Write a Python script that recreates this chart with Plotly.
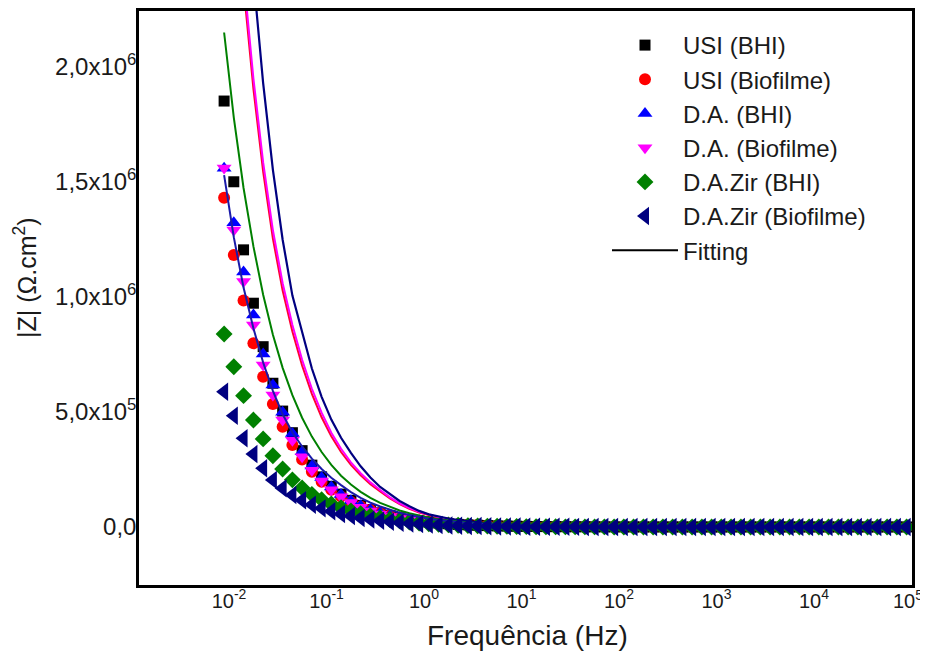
import plotly.graph_objects as go

# Frequencies (Hz), lowest to highest
freq = [0.00891, 0.0112, 0.0141, 0.0178, 0.0224, 0.0282, 0.0355, 0.0447, 0.0562, 0.0708,
        0.0891, 0.112, 0.141, 0.178, 0.224, 0.282, 0.355, 0.447, 0.562, 0.708,
        0.891, 1.12, 1.41, 1.78, 2.24, 2.82, 3.55, 4.47, 5.62, 7.08,
        8.91, 11.2, 14.1, 17.8, 22.4, 28.2, 35.5, 44.7, 56.2, 70.8,
        89.1, 112, 141, 178, 224, 282, 355, 447, 562, 708,
        891, 1120, 1410, 1780, 2240, 2820, 3550, 4470, 5620, 7080,
        8910, 11200, 14100, 17800, 22400, 28200, 35500, 44700, 56200, 70800,
        89100]

usi_bhi = [1852000, 1501000, 1205000, 973000, 784000, 625000, 504000, 410000, 332000, 269000,
           218000, 177000, 143000, 116000, 94000, 76000, 61700, 50000, 40500, 32800,
           26600, 21500, 17400, 14100, 11400, 9250, 7500, 6080, 4930, 4000,
           3250, 2640, 2150, 1760, 1440, 1180, 975, 810, 675, 565,
           480, 412, 358, 316, 283, 257, 237, 221, 209, 199,
           192, 186, 182, 178, 175, 173, 171, 170, 169, 168,
           167, 166, 166, 165, 165, 164, 164, 163, 163, 162,
           162]

usi_bio = [1432000, 1183000, 985000, 799000, 653000, 535000, 436000, 357000, 293000, 240000,
           197000, 162000, 133000, 109000, 89500, 73500, 60300, 49500, 40600, 33300,
           27300, 22400, 18400, 15100, 12400, 10200, 8350, 6850, 5620, 4610,
           3780, 3100, 2550, 2090, 1720, 1420, 1170, 970, 805, 672,
           565, 480, 412, 358, 316, 283, 258, 238, 223, 211,
           202, 195, 190, 186, 183, 180, 178, 177, 176, 175,
           174, 173, 173, 172, 172, 171, 171, 170, 170, 169,
           169]

da_bhi = [1560000, 1323000, 1109000, 922000, 752000, 617000, 499000, 407000, 327000, 265000,
          215000, 174000, 141000, 114000, 92500, 75000, 60800, 49300, 40000, 32400,
          26300, 21300, 17300, 14000, 11400, 9250, 7500, 6100, 4950, 4020,
          3270, 2660, 2170, 1770, 1450, 1190, 985, 815, 680, 570,
          482, 412, 356, 312, 278, 252, 232, 217, 205, 196,
          189, 184, 180, 177, 175, 173, 171, 170, 169, 168,
          167, 167, 166, 166, 165, 165, 164, 164, 164, 163,
          163]

da_bio = [1561000, 1291000, 1067000, 878000, 704000, 574000, 465000, 377000, 305000, 247000,
          200000, 162000, 131000, 106000, 86000, 69700, 56500, 45800, 37100, 30100,
          24400, 19800, 16100, 13100, 10600, 8620, 7000, 5690, 4630, 3770,
          3070, 2500, 2040, 1670, 1370, 1130, 935, 775, 648, 545,
          462, 396, 344, 303, 271, 246, 227, 212, 201, 192,
          185, 180, 176, 173, 171, 169, 168, 167, 166, 165,
          164, 164, 163, 163, 162, 162, 162, 161, 161, 161,
          160]

daz_bhi = [839000, 697000, 571000, 465000, 383000, 310000, 252000, 205000, 170000, 142000,
           119000, 100000, 84000, 70000, 58000, 48000, 39500, 32500, 26500, 21500,
           17500, 14200, 11500, 9300, 7500, 6050, 4900, 3950, 3200, 2600,
           2100, 1700, 1380, 1120, 910, 745, 612, 505, 420, 352,
           298, 255, 221, 195, 174, 158, 146, 137, 131, 126,
           122, 120, 118, 117, 116, 115, 115, 114, 114, 113,
           113, 113, 112, 112, 112, 112, 111, 111, 111, 111,
           111]

daz_bio = [588000, 484000, 386000, 317000, 255000, 204000, 168000, 139000, 116000, 97000,
           81000, 68000, 57000, 47500, 39500, 32800, 27200, 22500, 18600, 15300,
           12600, 10400, 8550, 7020, 5760, 4720, 3870, 3170, 2600, 2130,
           1750, 1440, 1180, 975, 805, 665, 552, 460, 386, 326,
           278, 240, 210, 186, 168, 154, 143, 135, 129, 124,
           120, 117, 115, 114, 113, 112, 111, 111, 110, 110,
           110, 109, 109, 109, 109, 108, 108, 108, 108, 108,
           108]

# Fitted curves
fit_green = [2150000, 1780000, 1474000, 1220000, 1010000, 836000, 692000, 573000, 475000, 393000,
             326000, 270000, 223000, 185000, 153000, 127000, 105000, 87000, 72000, 60000,
             49000, 40700, 33800, 28000, 23300, 19300, 16000, 13300, 11000, 9150,
             7600, 6300, 5230, 4340, 3600, 2990, 2480, 2060, 1710, 1420,
             1180, 985, 825, 695, 590, 505, 438, 385, 343, 310,
             285, 265, 250, 238, 229, 222, 216, 212, 209, 206,
             204, 203, 202, 201, 200, 199, 199, 198, 198, 198,
             197]

fit_magenta = [3650000, 2960000, 2400000, 1950000, 1585000, 1290000, 1060000, 878000, 727000, 601000,
               497000, 410000, 340000, 281000, 234000, 194000, 161000, 129000, 103000, 82000,
               66000, 53000, 43000, 35000, 28000, 22000, 18000, 14000, 11000, 8700,
               6900, 5500, 4400, 3550, 2870, 2330, 1900, 1560, 1290, 1070,
               900, 760, 650, 560, 490, 435, 390, 355, 328, 306,
               290, 277, 266, 258, 251, 246, 242, 239, 236, 234,
               232, 231, 230, 229, 228, 228, 227, 227, 226, 226,
               226]

fit_red = [3570000, 2900000, 2350000, 1905000, 1545000, 1254000, 1028000, 850000, 702000, 579000,
           477000, 394000, 326000, 270000, 225000, 186000, 155000, 124000, 99000, 79000,
           63000, 51000, 41000, 33500, 27000, 21000, 17300, 13400, 10600, 8400,
           6600, 5300, 4250, 3420, 2770, 2250, 1840, 1510, 1250, 1040,
           875, 740, 635, 550, 482, 428, 385, 351, 325, 304,
           288, 275, 265, 257, 250, 245, 241, 238, 235, 233,
           231, 230, 229, 228, 227, 227, 226, 226, 225, 225,
           225]

fit_navy = [4580000, 3690000, 2970000, 2390000, 1930000, 1553000, 1249000, 1006000, 851000, 689000,
            566000, 467000, 388000, 322000, 264000, 215000, 174000, 142000, 113000, 90000,
            70000, 55000, 45000, 37000, 30000, 24000, 19000, 15000, 12000, 9500,
            7500, 6000, 4800, 3850, 3100, 2500, 2030, 1660, 1370, 1130,
            945, 795, 675, 580, 505, 445, 397, 360, 331, 309,
            292, 279, 268, 260, 253, 248, 244, 241, 238, 236,
            234, 233, 232, 231, 230, 230, 229, 229, 228, 228,
            228]

fit_blue = [1530000, 1260000, 1041000, 864000, 715000, 592000, 490000, 411000, 350000, 297000,
            252000, 214000, 182000, 152000, 127000, 106000, 89000, 74000, 62000, 52000,
            43000, 36000, 30000, 25000, 21000, 17000, 14000, 11500, 9400, 7700,
            6300, 5150, 4220, 3460, 2840, 2340, 1930, 1600, 1330, 1110,
            935, 795, 682, 592, 520, 462, 416, 379, 350, 327,
            309, 295, 284, 275, 268, 263, 259, 256, 253, 251,
            249, 248, 247, 246, 245, 245, 244, 244, 243, 243,
            243]

x_tickvals = [0.01, 0.1, 1, 10, 100, 1000, 10000, 100000]
x_ticktext = ["10<sup>-2</sup>", "10<sup>-1</sup>", "10<sup>0</sup>", "10<sup>1</sup>",
              "10<sup>2</sup>", "10<sup>3</sup>", "10<sup>4</sup>", "10<sup>5</sup>"]
y_tickvals = [0, 500000, 1000000, 1500000, 2000000]
y_ticktext = ["0,0", "5,0x10<sup>5</sup>", "1,0x10<sup>6</sup>", "1,5x10<sup>6</sup>", "2,0x10<sup>6</sup>"]

FONT = "Arial, 'Liberation Sans', sans-serif"
TXT = "#1a1a1a"

# page layout (the page body adds an 8 px offset)
OFF = 8
PL, PR, PT, PB = 139, 912, 11, 585   # plot area in page pixels
FW, FH = 920, 649
PW, PH = PR - PL, PB - PT


def px(xp):
    return (xp - PL) / PW


def py(yp):
    return (PB - yp) / PH


fig = go.Figure()


def markers(y, name, symbol, color, size=12):
    fig.add_trace(go.Scatter(x=freq, y=y, mode="markers", name=name,
                             marker=dict(symbol=symbol, color=color, size=size, line=dict(width=0))))


def fit(y, color, width=2):
    fig.add_trace(go.Scatter(x=freq, y=y, mode="lines", showlegend=False,
                             line=dict(color=color, width=width)))


markers(usi_bhi, "USI (BHI)", "square", "#000000", 11)
markers(usi_bio, "USI (Biofilme)", "circle", "#ff0000", 12)
markers(da_bhi, "D.A. (BHI)", "triangle-up", "#0000ff", 13)
markers(da_bio, "D.A. (Biofilme)", "triangle-down", "#ff00ff", 13)
markers(daz_bhi, "D.A.Zir (BHI)", "diamond", "#008000", 13)

fit(fit_red, "#ff0033", 2)
fit(fit_magenta, "#ff00ff", 2)
fit(fit_navy, "#000080", 2.2)
fit(fit_green, "#008000", 2)
fit(fit_blue, "#1a1aa8", 2)

markers(daz_bio, "D.A.Zir (Biofilme)", "triangle-left", "#000080", 16)

fig.add_trace(go.Scatter(x=[None], y=[None], mode="lines", name="Fitting",
                         line=dict(color="#000000", width=2)))

fig.update_layout(
    width=FW, height=FH,
    margin=dict(l=PL - OFF, r=FW - (PR - OFF), t=PT - OFF, b=FH - (PB - OFF), autoexpand=False),
    paper_bgcolor="white", plot_bgcolor="white",
    font=dict(family=FONT, color=TXT),
    showlegend=True,
    legend=dict(x=px(607), y=py(23), xanchor="left", yanchor="top",
                bgcolor="rgba(0,0,0,0)", font=dict(size=24, family=FONT, color=TXT),
                itemwidth=66, tracegroupgap=0),
    annotations=[
        dict(text="|Z| (\u03a9.cm<sup>2</sup>)", xref="paper", yref="paper",
             x=px(25), y=py(278), textangle=-90, showarrow=False,
             font=dict(size=25, family=FONT, color=TXT), xanchor="center", yanchor="middle"),
        dict(text="Frequ\u00eancia (Hz)", xref="paper", yref="paper",
             x=px(527), y=py(635), showarrow=False,
             font=dict(size=28, family=FONT, color=TXT), xanchor="center", yanchor="middle"),
        # last decade label, kept inside the page edge
        dict(text=x_ticktext[-1], xref="paper", yref="paper",
             x=px(925), y=py(600), showarrow=False,
             font=dict(size=20, family=FONT, color=TXT), xanchor="right", yanchor="middle"),
    ],
)

fig.update_xaxes(type="log", range=[-(424 - PL) / 97.5, (PR - 424) / 97.5],
                 tickvals=x_tickvals[:-1], ticktext=x_ticktext[:-1], automargin=False,
                 ticklabelstandoff=-4,
                 showgrid=False, zeroline=False, showline=True, mirror=True, linecolor="black",
                 linewidth=2.5, ticks="", tickfont=dict(size=20, family=FONT, color=TXT))
fig.update_yaxes(range=[-(PB - 527) / 230 * 1e6, (527 - PT) / 230 * 1e6],
                 tickvals=y_tickvals, ticktext=y_ticktext, automargin=False,
                 ticklabelstandoff=-5,
                 showgrid=False, zeroline=False, showline=True, mirror=True, linecolor="black",
                 linewidth=2.5, ticks="", tickfont=dict(size=24, family=FONT, color=TXT))

fig.write_html("out.html")
